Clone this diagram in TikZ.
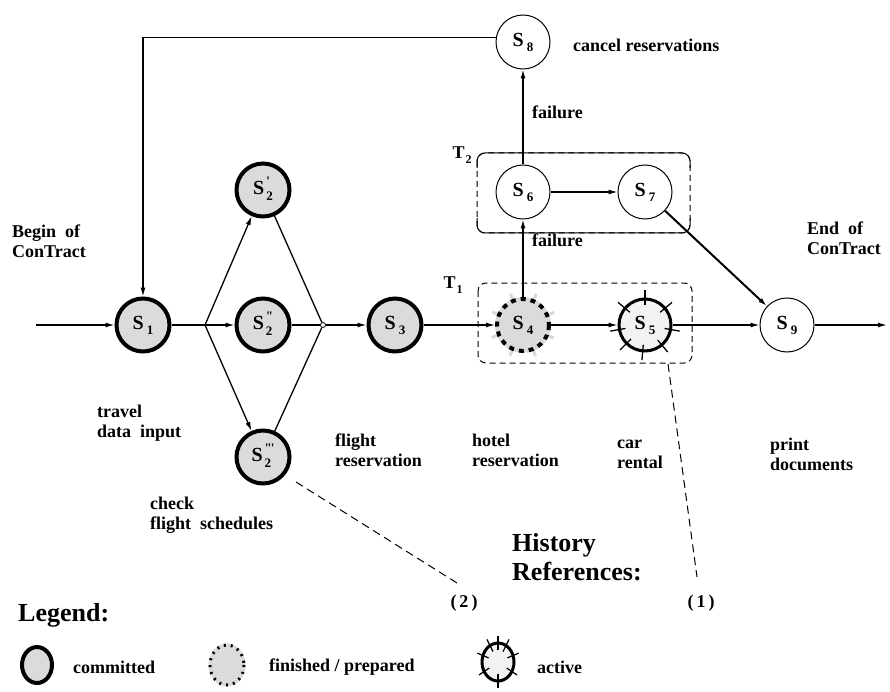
\documentclass[tikz,border=0pt]{standalone}
\usepackage{fontspec}
\setmainfont{Liberation Serif}
\usetikzlibrary{arrows.meta,calc}
\newcommand\Slab[1]{\bfseries{\fontsize{20}{20}\selectfont S}\hspace{3pt}\raisebox{-5pt}{\fontsize{13}{13}\selectfont #1}}
\newcommand\Sprm[1]{\bfseries{\fontsize{20}{20}\selectfont S}\hspace{2pt}\raisebox{-6pt}{\fontsize{13}{15}\selectfont\begin{tabular}[b]{@{}l@{}}#1\\2\end{tabular}}}
\newcommand\Tlab[1]{\bfseries{\fontsize{18}{18}\selectfont T}\hspace{1pt}\raisebox{-5pt}{\fontsize{12}{12}\selectfont #1}}
\tikzset{
  committed/.style={circle,draw,line width=4pt,fill=gray!28,minimum size=53pt,inner sep=0pt},
  finished/.style={circle,fill=gray!28,minimum size=52pt,inner sep=0pt,outer sep=2pt},
  activenode/.style={circle,draw,line width=3pt,fill=gray!10,minimum size=52pt,inner sep=0pt},
  plainnode/.style={circle,draw,line width=1pt,fill=white,minimum size=54pt,inner sep=0pt},
  lbl/.style={font=\fontsize{18}{20}\selectfont\bfseries,align=left,inner sep=0pt,anchor=west},
  biglbl/.style={font=\fontsize{26}{29}\selectfont\bfseries,align=left,inner sep=0pt,anchor=west},
  conn/.style={line width=1.3pt},
  arr/.style={conn,-{Latex[length=9pt,width=5pt]}},
  refline/.style={line width=1pt,dash pattern=on 8pt off 5pt},
  tbox/.style={line width=1pt,rounded corners=8pt}
}
\begin{document}
\begin{tikzpicture}[x=1pt,y=-1pt]
\useasboundingbox (0,0) rectangle (890,692);
% transaction boxes
\draw[tbox,dash pattern=on 6pt off 4pt] (478,283) rectangle (692,363);
\draw[tbox,dash pattern=on 6pt off 4pt] (477,153) rectangle (690,233);
\draw[tbox] (477,168) -- (477,153) -- (690,153) -- (690,168);
\draw[tbox] (477,218) -- (477,233) -- (690,233) -- (690,218);
\node[inner sep=0pt] (T2) at (462,155) {\Tlab{2}};
\node[inner sep=0pt] (T1) at (453,285) {\Tlab{1}};
% states
\node[committed] (S1) at (143,325) {\Slab{1}};
\node[committed] (S2a) at (263,190) {\Sprm{\textquotesingle}};
\node[committed] (S2b) at (263,325) {\Sprm{\textquotedbl}};
\node[committed] (S2c) at (263,457) {\Sprm{\textquotedbl\kern-1pt\textquotesingle}};
\node[committed] (S3) at (395,325) {\Slab{3}};
\node[finished] (S4) at (523,325) {};
\draw[gray!30,line width=4pt] (S4.center) circle (26);
\foreach \a in {0,45,...,315}{
  \draw[gray!30,line width=3pt] ($(S4.center)!0.95!(S4.\a+22)$) -- ($(S4.center)!1.2!(S4.\a+22)$);
}
\draw[black,line width=4pt,dash pattern=on 5pt off 5pt] (S4.center) circle (26);
\node at (S4.center) {\Slab{4}};
\node[activenode] (S5) at (645,325) {\Slab{5}};
\foreach \a in {90,40,-10,-50,-95,-135,-170,140}{
  \draw[line width=1.3pt] ($(S5.center)!0.72!(S5.\a)$) -- ($(S5.center)!1.28!(S5.\a)$);
}
\node[plainnode] (S6) at (523,192) {\Slab{6}};
\node[plainnode] (S7) at (645,192) {\Slab{7}};
\node[plainnode] (S8) at (523,42) {\Slab{8}};
\node[plainnode] (S9) at (787,325) {\Slab{9}};
% connectors
\coordinate (in) at (36,325);
\coordinate (out) at (887,325);
\coordinate (split) at (205,325);
\node[circle,draw,fill=white,inner sep=0pt,minimum size=5pt,line width=0.8pt] (join) at (323,325) {};
\draw[arr] (in) -- (S1);
\draw[conn] (S1) -- (split);
\draw[arr] (split) -- (S2a);
\draw[arr] (split) -- (S2b);
\draw[arr] (split) -- (S2c);
\draw[conn] (S2a) -- (join);
\draw[conn] (S2b) -- (join);
\draw[conn] (S2c) -- (join);
\draw[arr] (join) -- (S3);
\draw[arr] (S3) -- (S4);
\draw[arr] (S4) -- (S5);
\draw[arr] (S5) -- (S9);
\draw[arr] (S9) -- (out);
\draw[arr] (S4) -- (S6);
\draw[arr] (S6) -- (S8);
\draw[arr] (S6) -- (S7);
\draw[arr,line width=2pt] (S7) -- (S9);
\draw[arr] (S8.170) -- (S8.170 -| S1) -- (S1);
% labels
\node[lbl] (lbegin) at (12,241) {Begin\ \ of\\ConTract};
\node[lbl] (lend) at (807,238) {End\ \ of\\ConTract};
\node[lbl] (ltravel) at (97,423) {travel\\data\ \ input};
\node[lbl] (lcheck) at (150,515) {check\\flight\ \ schedules};
\node[lbl] (lflight) at (335,450) {flight\\reservation};
\node[lbl] (lhotel) at (472,450) {hotel\\reservation};
\node[lbl] (lcar) at (617,454) {car\\rental};
\node[lbl] (lprint) at (770,454) {print\\documents};
\node[lbl] (lcancel) at (573,45) {cancel reservations};
\node[lbl] (lfail1) at (532,112) {failure};
\node[lbl] (lfail2) at (532,240) {failure};
\node[biglbl] (lhist) at (512,557) {History\\References:};
% history references
\node[lbl,anchor=center] (ref2) at (464,603) {(\,2\,)};
\node[lbl,anchor=center] (ref1) at (701,603) {(\,1\,)};
\coordinate (r2s) at (296,482);
\coordinate (r2e) at (457,583);
\coordinate (r1s) at (668,364);
\coordinate (r1e) at (697,577);
\draw[refline] (r2s) -- (r2e);
\draw[refline] (r1s) -- (r1e);
% legend
\node[biglbl] (leg) at (18,615) {Legend:};
\draw[line width=4pt,fill=gray!28] (37,665) ellipse (15 and 18);
\node[lbl] (lcom) at (73,667) {committed};
\draw[gray!30,line width=3pt,fill=gray!28] (227,665) ellipse (17 and 20);
\draw[black,line width=3pt,dash pattern=on 2pt off 5pt] (227,665) ellipse (17 and 20);
\node[lbl] (lfin) at (269,667) {finished / prepared};
\draw[line width=3pt,fill=gray!10] (498,662) ellipse (16 and 19);
\foreach \a in {90,30,-20,-60,-90,-120,-160,150}{
  \draw[line width=1.2pt] (498,662) ++(\a:10 and 12) -- ++(\a:12 and 14);
}
\node[lbl] (lact) at (537,667) {active};
\end{tikzpicture}
\end{document}
